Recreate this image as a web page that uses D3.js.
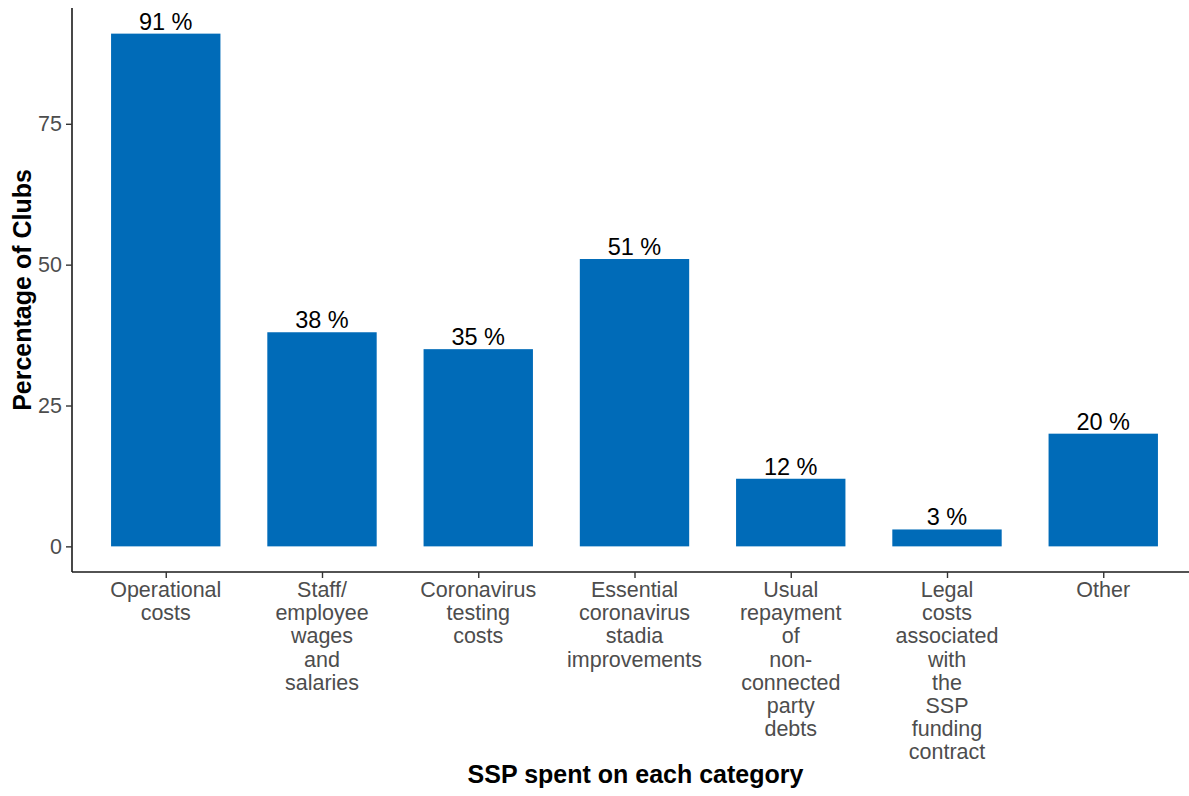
<!DOCTYPE html>
<html>
<head>
<meta charset="utf-8">
<script src="https://cdn.jsdelivr.net/npm/d3@7"></script>
<style>
  html, body { margin: 0; padding: 0; background: #fff; }
  svg { display: block; }
  svg text { font-family: "Liberation Sans", Arial, sans-serif; }
</style>
</head>
<body>
<svg id="chart" width="1189" height="796"></svg>
<script>
// Share of clubs spending SSP money on each category
const categories = [
  ["Operational", "costs"],
  ["Staff/", "employee", "wages", "and", "salaries"],
  ["Coronavirus", "testing", "costs"],
  ["Essential", "coronavirus", "stadia", "improvements"],
  ["Usual", "repayment", "of", "non-", "connected", "party", "debts"],
  ["Legal", "costs", "associated", "with", "the", "SSP", "funding", "contract"],
  ["Other"]
];
const values = [91, 38, 35, 51, 12, 3, 20];
const yTicks = [0, 25, 50, 75];

const svg = d3.select("#chart");
const panel = { left: 72, right: 1197, top: 8, bottom: 572 };

// Discrete x scale with 0.6 expansion on each side
const n = categories.length;
const x = d3.scalePoint()
  .domain(d3.range(n))
  .range([panel.left, panel.right])
  .padding(0.6);
const step = x.step();
const barW = step * 0.7;

// Continuous y scale with 5% expansion
const yMax = d3.max(values);
const pad = yMax * 0.05;
const y = d3.scaleLinear()
  .domain([-pad, yMax + pad])
  .range([panel.bottom, panel.top]);

// Bars
svg.append("g").selectAll("rect")
  .data(values)
  .join("rect")
  .attr("x", (d, i) => x(i) - barW / 2)
  .attr("y", d => y(d))
  .attr("width", barW)
  .attr("height", d => y(0) - y(d))
  .attr("fill", "#006bb8");

// Value labels
svg.append("g").selectAll("text")
  .data(values)
  .join("text")
  .attr("x", (d, i) => x(i))
  .attr("y", d => y(d) - 4)
  .attr("text-anchor", "middle")
  .attr("font-size", 23.5)
  .attr("fill", "#000")
  .text(d => d + " %");

// Y axis
const yAxis = svg.append("g")
  .attr("transform", `translate(${panel.left},0)`)
  .call(d3.axisLeft(y).tickValues(yTicks).tickSize(6).tickPadding(4).tickSizeOuter(0));
yAxis.attr("font-family", null);
yAxis.select(".domain").attr("stroke", "#1a1a1a").attr("stroke-width", 1.6)
  .attr("d", `M0,${panel.top}V${panel.bottom}`);
yAxis.selectAll(".tick line").attr("stroke", "#333").attr("stroke-width", 1.4);
yAxis.selectAll(".tick text").attr("fill", "#4d4d4d").attr("font-size", 21.5);

// X axis
const xAxis = svg.append("g")
  .attr("transform", `translate(0,${panel.bottom})`)
  .call(d3.axisBottom(x).tickSize(6).tickSizeOuter(0).tickFormat(""));
xAxis.select(".domain").attr("stroke", "#1a1a1a").attr("stroke-width", 1.6)
  .attr("d", `M${panel.left},0H${panel.right}`);
xAxis.selectAll(".tick line").attr("stroke", "#333").attr("stroke-width", 1.4);

// Multi-line category labels
const lineH = 23.2;
svg.append("g").selectAll("text")
  .data(categories)
  .join("text")
  .attr("x", (d, i) => x(i))
  .attr("y", 597)
  .attr("text-anchor", "middle")
  .attr("font-size", 21.5)
  .attr("fill", "#4d4d4d")
  .each(function(lines, i) {
    d3.select(this).selectAll("tspan")
      .data(lines)
      .join("tspan")
      .attr("x", x(i))
      .attr("dy", (l, j) => j === 0 ? 0 : lineH)
      .text(l => l);
  });

// Axis titles
svg.append("text")
  .attr("x", (panel.left + panel.right) / 2 + 1)
  .attr("y", 783)
  .attr("text-anchor", "middle")
  .attr("font-size", 25)
  .attr("font-weight", "bold")
  .attr("fill", "#000")
  .text("SSP spent on each category");

svg.append("text")
  .attr("transform", `translate(31,${(panel.top + panel.bottom) / 2}) rotate(-90)`)
  .attr("text-anchor", "middle")
  .attr("font-size", 25)
  .attr("font-weight", "bold")
  .attr("fill", "#000")
  .text("Percentage of Clubs");
</script>
</body>
</html>
